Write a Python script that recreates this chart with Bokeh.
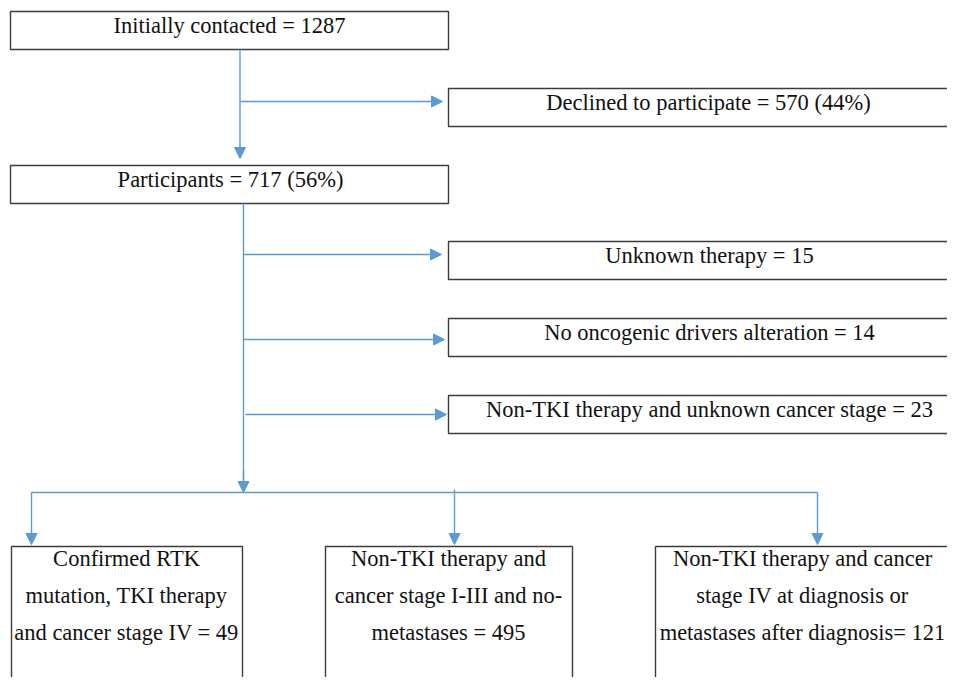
from bokeh.plotting import figure
from bokeh.models import ColumnDataSource, Arrow, NormalHead
from bokeh.core.properties import value
from bokeh.embed import file_html
from bokeh.resources import INLINE

# ---- data (flowchart content) ----
stage_names = ["Initially contacted", "Declined to participate", "Participants",
               "Unknown therapy", "No oncogenic drivers alteration",
               "Non-TKI therapy and unknown cancer stage"]
stage_counts = [1287, 570, 717, 15, 14, 23]
stage_pcts = ["", "44%", "56%", "", "", ""]

group_lines = [
    ["Confirmed RTK", "mutation, TKI therapy", "and cancer stage IV = 49"],
    ["Non-TKI therapy and", "cancer stage I-III and no-", "metastases = 495"],
    ["Non-TKI therapy and cancer", "stage IV at diagnosis or", "metastases after diagnosis= 121"],
]

# ---- layout (pixel-like coordinates) ----
BLUE = "#5B9BD5"
EDGE = "#3c3c3c"
FONT = "Liberation Serif"
FS = "22.5px"

top_boxes = [  # left, right, top, bottom
    (10, 448, 11, 49),
    (448, 975, 88, 126),
    (10, 448, 165, 203),
    (448, 975, 241, 279),
    (448, 975, 318, 356),
    (448, 975, 395, 433),
]
bottom_boxes = [
    (11, 242, 546, 720),
    (325, 572, 546, 720),
    (655, 975, 546, 720),
]
bottom_text_x = [126, 448, 802]

p = figure(width=947, height=677, x_range=(0, 947), y_range=(677, 0),
           output_backend="svg", toolbar_location=None, min_border=0)
p.axis.visible = False
p.grid.visible = False
p.outline_line_color = None
p.background_fill_color = "white"

# boxes
all_boxes = top_boxes + bottom_boxes
p.quad(left=[b[0] for b in all_boxes], right=[b[1] for b in all_boxes],
       top=[b[2] for b in all_boxes], bottom=[b[3] for b in all_boxes],
       fill_color="white", line_color=EDGE, line_width=1.4)

# single-line labels
labels = []
for n, c, pc in zip(stage_names, stage_counts, stage_pcts):
    s = f"{n} = {c}"
    if pc:
        s += f" ({pc})"
    labels.append(s)
tx = [229, 708, 230, 709, 709, 709]
ty = [b[2] + 13.5 for b in top_boxes]
p.text(x=tx, y=ty, text=labels, text_align="center", text_baseline="alphabetic",
       text_font=value(FONT), text_font_size=FS, text_color="#111111")

# multi-line labels
mx, my, mt = [], [], []
for gx, b, lines in zip(bottom_text_x, bottom_boxes, group_lines):
    for i, ln in enumerate(lines):
        mx.append(gx)
        my.append(b[2] + 12 + 37 * i)
        mt.append(ln)
p.text(x=mx, y=my, text=mt, text_align="center", text_baseline="alphabetic",
       text_font=value(FONT), text_font_size=FS, text_color="#111111")

# plain connector lines
p.segment(x0=[243, 31], y0=[203, 492], x1=[243, 817], y1=[480, 492],
          line_color=BLUE, line_width=1.4)

# arrows
arrows = [  # x0, y0, x1, y1
    (239.5, 49, 239.5, 158),
    (240, 101, 442, 101),
    (243, 254, 441, 254),
    (243, 339, 444, 339),
    (245, 414, 446, 414),
    (243, 470, 243, 492),
    (31, 492, 31, 544),
    (454, 489, 454, 544),
    (817, 492, 817, 544),
]
src = ColumnDataSource(dict(x0=[a[0] for a in arrows], y0=[a[1] for a in arrows],
                            x1=[a[2] for a in arrows], y1=[a[3] for a in arrows]))
p.add_layout(Arrow(end=NormalHead(size=11, fill_color=BLUE, line_color=BLUE),
                   x_start="x0", y_start="y0", x_end="x1", y_end="y1", source=src,
                   line_color=BLUE, line_width=1.4))

open("out.html", "w").write(file_html(p, INLINE))
